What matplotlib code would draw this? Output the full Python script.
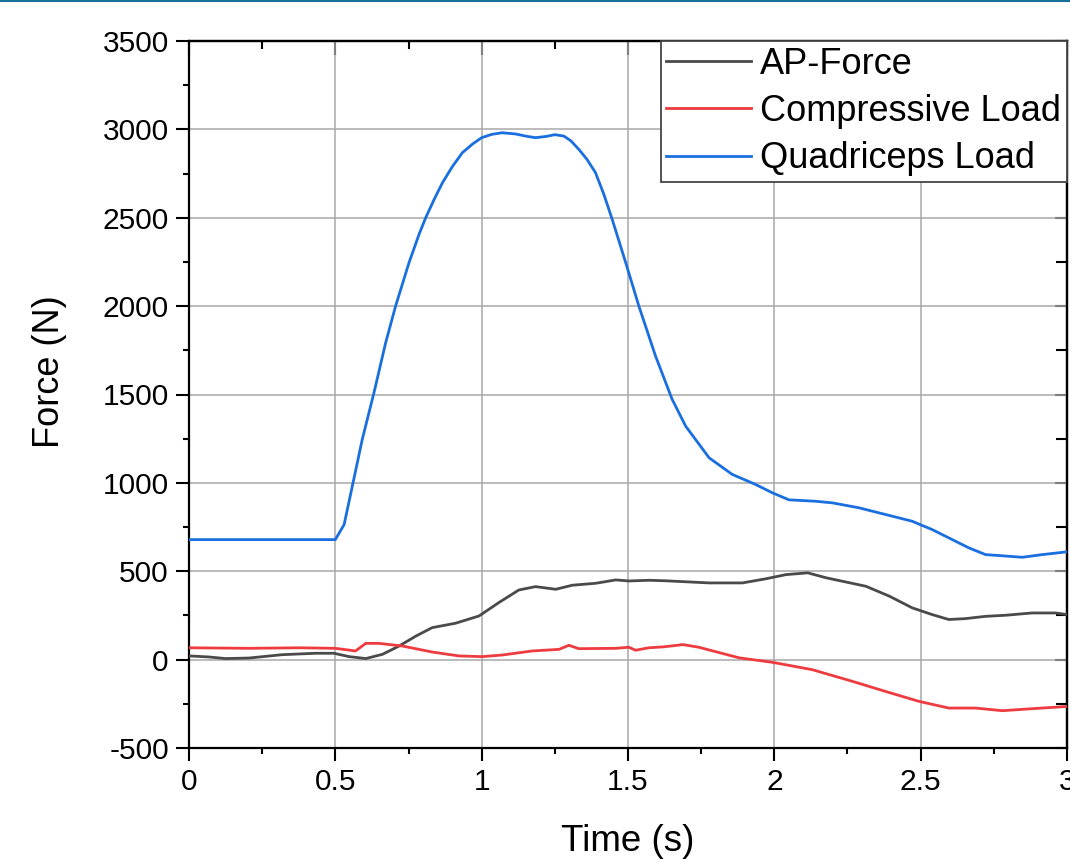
import matplotlib
matplotlib.use("Agg")
import matplotlib.pyplot as plt
from matplotlib.ticker import MultipleLocator
import numpy as np

plt.rcParams['font.family'] = ['Liberation Sans', 'DejaVu Sans']
plt.rcParams['axes.unicode_minus'] = False

# Quadriceps Load (blue)
t_quad = [0.0, 0.5, 0.53, 0.558, 0.592, 0.632, 0.672, 0.706, 0.752, 0.786, 0.809, 0.838,
          0.866, 0.900, 0.934, 0.968, 1.0, 1.035, 1.07, 1.116, 1.15, 1.184, 1.22, 1.25,
          1.281, 1.305, 1.332, 1.36, 1.389, 1.418, 1.446, 1.492,
          1.537, 1.594, 1.651, 1.697, 1.777, 1.856, 1.936, 1.993, 2.05, 2.141, 2.198,
          2.289, 2.380, 2.471, 2.539, 2.608, 2.665, 2.722, 2.767, 2.847, 2.915, 3.0]
quad = [679, 679, 764, 981, 1246, 1510, 1793, 2001, 2247, 2406, 2501, 2605,
        2698, 2790, 2868, 2916, 2953, 2972, 2981, 2974, 2962, 2953, 2960, 2970,
        2962, 2935, 2887, 2830, 2755, 2630, 2491, 2247,
        2001, 1718, 1472, 1321, 1142, 1048, 991, 944, 904, 896, 887,
        859, 821, 783, 736, 679, 632, 594, 589, 579, 594, 610]

# AP-Force (dark gray)
t_ap = [0.0, 0.068, 0.125, 0.205, 0.319, 0.433, 0.495, 0.547, 0.604, 0.661, 0.718, 0.775,
        0.831, 0.911, 0.991, 1.059, 1.127, 1.184, 1.253, 1.31, 1.39, 1.458, 1.503, 1.571,
        1.629, 1.777, 1.891, 1.97, 2.04, 2.114, 2.177, 2.313, 2.393, 2.471, 2.539, 2.596,
        2.653, 2.722, 2.79, 2.881, 2.961, 3.0]
ap = [21, 15, 6, 9, 28, 36, 36, 17, 6, 30, 77, 133,
      181, 206, 247, 323, 394, 413, 398, 421, 432, 451, 445, 449,
      446, 434, 434, 457, 481, 491, 463, 415, 359, 293, 255, 227,
      232, 245, 251, 264, 264, 255]

# Compressive Load (red)
t_comp = [0.0, 0.205, 0.376, 0.5, 0.569, 0.604, 0.649, 0.729, 0.831, 0.922, 1.002, 1.07,
          1.173, 1.264, 1.298, 1.332, 1.458, 1.503, 1.526, 1.571, 1.62, 1.688, 1.742,
          1.88, 1.993, 2.13, 2.267, 2.38, 2.494, 2.596, 2.688, 2.779, 2.859, 3.0]
comp = [67, 64, 67, 64, 49, 92, 92, 77, 43, 21, 17, 26,
        49, 58, 81, 62, 64, 70, 53, 67, 72, 85, 70,
        10, -15, -57, -123, -180, -236, -274, -274, -289, -280, -265]

labels = ["AP-Force", "Compressive Load", "Quadriceps Load"]
colors = ["#4a4a4a", "#ee3b3f", "#1a6fe0"]
x_ticks = [0, 0.5, 1, 1.5, 2, 2.5, 3]
x_ticklabels = ["0", "0.5", "1", "1.5", "2", "2.5", "3"]

fig = plt.figure(figsize=(10.7, 8.6), dpi=100)
ax = fig.add_axes([189/1070, 1-748/860, (1067-189)/1070, (748-41)/860])

ax.plot(t_ap, ap, color=colors[0], lw=2.0, label=labels[0], zorder=3)
ax.plot(t_comp, comp, color=colors[1], lw=2.0, label=labels[1], zorder=3)
ax.plot(t_quad, quad, color=colors[2], lw=2.0, label=labels[2], zorder=3)

ax.set_xlim(0, 3)
ax.set_ylim(-500, 3500)
ax.set_xticks(x_ticks)
ax.set_xticklabels(x_ticklabels)
ax.xaxis.set_minor_locator(MultipleLocator(0.25))
ax.yaxis.set_major_locator(MultipleLocator(500))
ax.yaxis.set_minor_locator(MultipleLocator(250))

ax.grid(True, which='major', color='#a8a8a8', lw=1.1, zorder=0)
ax.set_axisbelow(True)

for s in ax.spines.values():
    s.set_linewidth(1.6)
    s.set_color('black')

ax.tick_params(axis='both', which='major', direction='out', length=9.5, width=1.5,
               labelsize=21.5, pad=5)
ax.tick_params(axis='both', which='minor', direction='out', length=4.5, width=1.5)

sec_t = ax.secondary_xaxis('top')
sec_t.set_xticks(x_ticks)
sec_t.xaxis.set_minor_locator(MultipleLocator(0.25))
sec_t.tick_params(which='major', direction='in', length=10, width=1.5, labeltop=False)
sec_t.tick_params(which='minor', direction='in', length=5.5, width=1.5)
sec_t.spines['top'].set_linewidth(1.6)
sec_r = ax.secondary_yaxis('right')
sec_r.yaxis.set_major_locator(MultipleLocator(500))
sec_r.yaxis.set_minor_locator(MultipleLocator(250))
sec_r.tick_params(which='major', direction='in', length=9, width=1.5, labelright=False)
sec_r.tick_params(which='minor', direction='in', length=8, width=1.5)
sec_r.spines['right'].set_linewidth(1.6)

ax.set_xlabel("Time (s)", fontsize=26.5, labelpad=20)
ax.set_ylabel("Force (N)", fontsize=26, labelpad=10)
ax.yaxis.set_label_coords(-0.139, 0.532)

leg = ax.legend(loc='upper right', fontsize=26.0, frameon=True, fancybox=False,
                borderaxespad=0, handlelength=2.35, handletextpad=0.25,
                labelspacing=0.34, borderpad=0.16, framealpha=1)
leg.get_frame().set_edgecolor('#444444')
leg.get_frame().set_linewidth(1.3)
leg.set_zorder(5)

# top thin border line of the image
fig.add_artist(plt.Line2D([0, 1], [1-1/860, 1-1/860], transform=fig.transFigure,
                          color='#17719b', lw=1.5))

fig.savefig("out.png", dpi=100)
